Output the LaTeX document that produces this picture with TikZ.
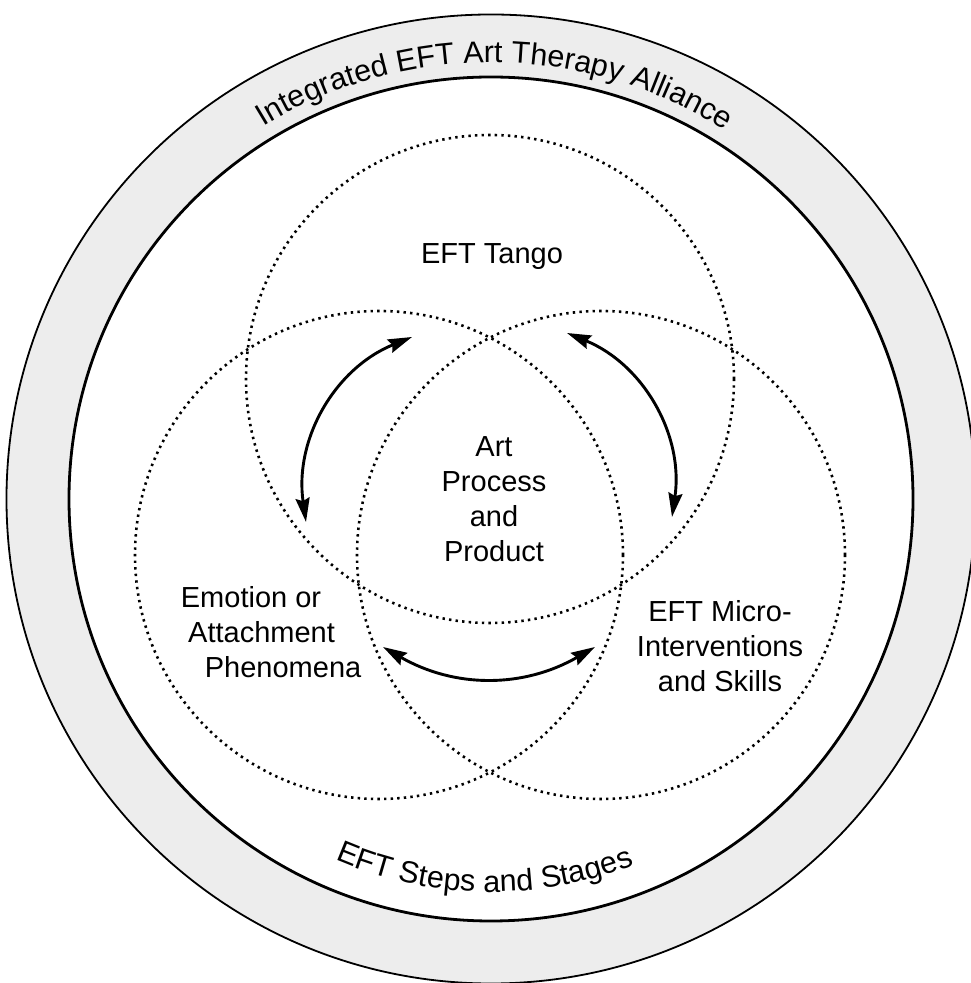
\documentclass[tikz,border=0pt]{standalone}
\usepackage{fontspec}
\setmainfont{Liberation Sans}
\usetikzlibrary{arrows.meta,decorations.text}
\definecolor{ringgray}{RGB}{237,237,237}
\newcommand\lblfont{\fontsize{29bp}{35bp}\selectfont}
\newcommand\arcfont{\fontsize{30.5bp}{37bp}\selectfont}
\begin{document}
\begin{tikzpicture}[x=1bp,y=1bp,
  ringline/.style={line width=1.8bp},
  innerline/.style={line width=2.8bp},
  dotcircle/.style={line width=2.6bp, dash pattern=on 2.4bp off 4.2bp},
  txt/.style={font=\lblfont, inner sep=0pt, align=center},
  link/.style={line width=2.9bp, {Stealth[length=24bp,width=14bp,inset=3bp]}-{Stealth[length=24bp,width=14bp,inset=3bp]}},
  arctext/.style={decorate, decoration={text along path, text align=center, text={|\arcfont|#1}}}
]
\useasboundingbox (0,0) rectangle (971,983);
\fill[white] (0,0) rectangle (971,983);
\clip (0,0) rectangle (971,983);
\coordinate (c) at (491,484);
\fill[ringgray] (c) circle[radius=484.5bp];
\draw[ringline] (c) circle[radius=484.5bp];
\fill[white] (c) circle[radius=422bp];
\draw[innerline] (c) circle[radius=422bp];
% curved texts
\path[arctext={Integrated EFT Art Therapy Alliance}] ([shift={(179.5:436.5bp)}]c) arc[start angle=179.5, end angle=-0.5, radius=436.5bp];
\path[arctext={EFT Steps and Stages}] ([shift={(179:393bp)}]c) arc[start angle=179, end angle=359, radius=393bp];
% venn circles
\coordinate (ctop) at (490,604);
\coordinate (cleft) at (379,428);
\coordinate (cright) at (601,428);
\draw[dotcircle] (ctop) circle[radius=244bp];
\draw[dotcircle] (cleft) circle[radius=244bp];
\draw[dotcircle] (cright) circle[radius=244bp];
% labels
\node[txt, anchor=base] (tango) at (492,719) {EFT Tango};
\node[txt] (art) at (494,483.9) {Art\\Process\\and\\Product};
\node[txt, align=left, anchor=west] (emotion) at (180.7,350.4) {Emotion or\\\hspace*{7.3bp}Attachment\\\hspace*{24bp}Phenomena};
\node[txt] (micro) at (720,337) {EFT Micro-\\Interventions\\and Skills};
% arrows
\coordinate (a1) at (412,646);
\coordinate (a2) at (306,461);
\coordinate (b1) at (567,650);
\coordinate (b2) at (672,466);
\coordinate (e1) at (383,336);
\coordinate (e2) at (595,336);
\draw[link] (a1) to[bend right=38] (a2);
\draw[link] (b1) to[bend left=38] (b2);
\draw[link] (e1) to[bend right=30] (e2);
\end{tikzpicture}
\end{document}
